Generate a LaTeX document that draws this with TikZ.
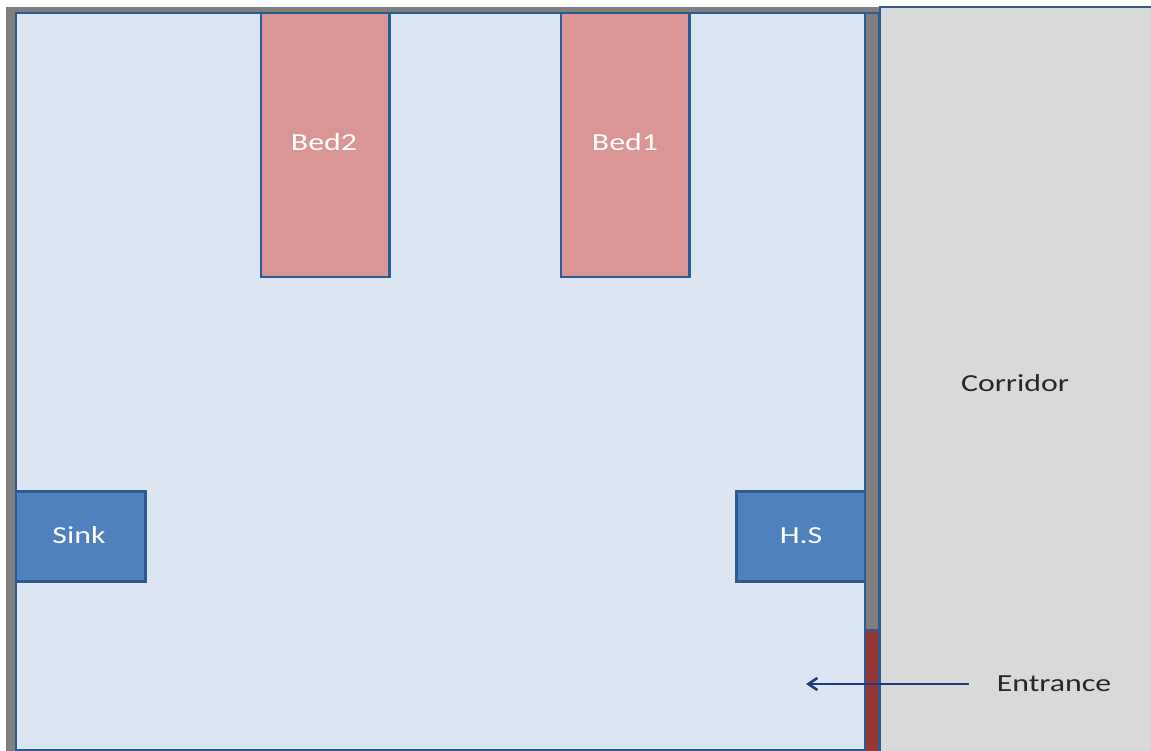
\documentclass[tikz,border=0pt]{standalone}
\usetikzlibrary{arrows.meta}
\usepackage{fontspec}
\setmainfont[FakeStretch=1.3]{Carlito}
\definecolor{wallgray}{HTML}{7F7F7F}
\definecolor{edgeblue}{HTML}{2C5A92}
\definecolor{roomblue}{HTML}{DCE6F2}
\definecolor{bedred}{HTML}{D99694}
\definecolor{fixblue}{HTML}{4F81BD}
\definecolor{corrgray}{HTML}{D9D9D9}
\definecolor{doorred}{HTML}{953735}
\definecolor{arrowblue}{HTML}{1F3A80}
\definecolor{inktext}{HTML}{262626}
\tikzset{
  box/.style={draw=edgeblue,line width=2.1pt,inner sep=0pt,outer sep=0pt,minimum width=#1,anchor=north west},
  bedbox/.style={box=128.5pt,fill=bedred,minimum height=264pt},
  fixbox/.style={box=130pt,fill=fixblue,minimum height=90pt},
  label/.style={inner sep=0pt,text=inktext,font=\fontsize{24.5}{27}\selectfont},
  whitelabel/.style={inner sep=0pt,text=white,font=\fontsize{24.5}{27}\selectfont},
  wall/.style={fill=wallgray,draw=none,anchor=north west,inner sep=0pt,outer sep=0pt},
}
\begin{document}
\begin{tikzpicture}[x=1pt,y=-1pt]
\useasboundingbox (0,0) rectangle (1151,751);
\fill[white] (0,0) rectangle (1151,751);
% walls
\node[wall,minimum width=873pt,minimum height=7pt] (topwall) at (5.5,7) {};
\node[wall,minimum width=10pt,minimum height=744pt] (leftwall) at (5.5,7) {};
% corridor
\node[box=272pt,fill=corrgray,minimum height=746pt] (corridor) at (880,7) {};
\node[label] (corridorlabel) at (1015,383) {Corridor};
% right wall and door
\node[box=14pt,fill=wallgray,minimum height=618pt] (rightwall) at (865,13) {};
\node[box=14pt,fill=doorred,minimum height=124pt] (door) at (865,630) {};
% room
\node[box=849pt,fill=roomblue,minimum height=737.5pt] (room) at (16,13) {};
% beds
\node[bedbox] (bedtwo) at (261,13) {};
\node[whitelabel] (bedtwolabel) at (324,142) {Bed2};
\node[bedbox] (bedone) at (561,13) {};
\node[whitelabel] (bedonelabel) at (625,142) {Bed1};
% fixtures
\node[fixbox,minimum width=129.5pt] (sink) at (16,491.5) {};
\node[whitelabel] (sinklabel) at (79,535.5) {Sink};
\node[fixbox,minimum width=128.5pt] (hs) at (736.5,491.5) {};
\node[whitelabel] (hslabel) at (801,535.5) {H.S};
% entrance
\node[label] (entrance) at (1054,683.5) {Entrance};
\coordinate (arrowstart) at (969,684);
\coordinate (arrowend) at (806,684);
\draw[arrowblue,line width=2.6pt,-{Straight Barb[length=9pt,width=12pt]}] (arrowstart) -- (arrowend);
\end{tikzpicture}
\end{document}
